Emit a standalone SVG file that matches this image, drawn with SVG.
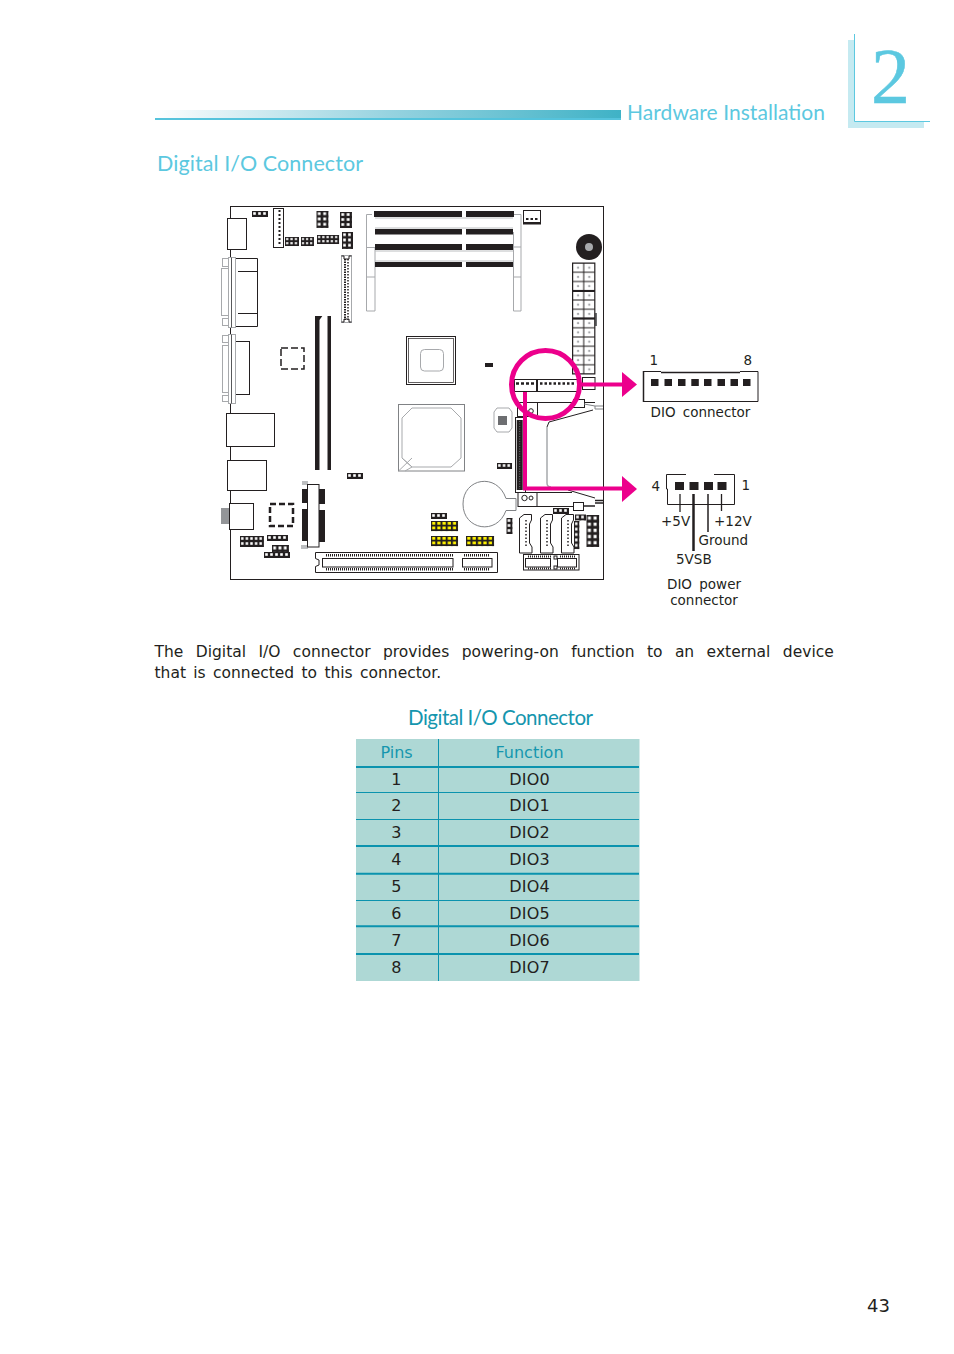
<svg xmlns="http://www.w3.org/2000/svg" width="954" height="1354" viewBox="0 0 954 1354">
<style>
.b{font-family:"DejaVu Sans","Liberation Sans",sans-serif;fill:#231f20}
.h{font-family:"Lato","Open Sans",sans-serif;font-weight:400}
.lbl{font-size:13.5px}
.td{font-size:16px;text-anchor:middle}
.th{font-size:16px;text-anchor:middle;fill:#1596ae}
.k{fill:#fff;stroke:#231f20;stroke-width:1}
.g{fill:#fff;stroke:#a7a9ac;stroke-width:1}
.d{fill:#231f20}
.gf{fill:#a7a9ac}
.tl{stroke:#0b93ae;stroke-width:1;fill:none}
.tt{stroke:#0b93ae;stroke-width:2;fill:none}
.pk{stroke:#ec008c;fill:none}
</style>
<defs>
<linearGradient id="bar" x1="0" x2="1" y1="0" y2="0"><stop offset="0" stop-color="#fff"/><stop offset="0.1" stop-color="#e8f5f8"/><stop offset="0.5" stop-color="#97d3e0"/><stop offset="1" stop-color="#3fb2c6"/></linearGradient>
<pattern id="pins" width="5" height="5" patternUnits="userSpaceOnUse"><rect width="5" height="5" fill="#231f20"/><rect x="1.200" y="1.200" width="2.600" height="2.600" fill="#fff"/></pattern>
<pattern id="ypins" width="5" height="5" patternUnits="userSpaceOnUse"><rect width="5" height="5" fill="#231f20"/><rect x="1.100" y="1" width="3" height="3" fill="#fff200"/></pattern>
<pattern id="tick" width="2" height="4" patternUnits="userSpaceOnUse"><rect width="1" height="4" fill="#231f20"/></pattern>
<pattern id="cell" width="11.200" height="9.250" patternUnits="userSpaceOnUse" x="572.500" y="263"><rect width="11.200" height="9.250" fill="#fff" stroke="#231f20" stroke-width="1"/><circle cx="5.600" cy="4.600" r="1.200" fill="#a7a9ac"/></pattern>
<rect id="p31" width="16" height="6" fill="url(#pins)"/>
<rect id="p41" width="21" height="6" fill="url(#pins)"/>
<rect id="p23" width="11" height="16" fill="url(#pins)"/>
<rect id="p32" width="16" height="11" fill="url(#pins)"/>
<rect id="p52" width="26" height="11" fill="url(#ypins)"/>
</defs>

<g id="page-header">
<rect x="155" y="110" width="466" height="8.500" fill="url(#bar)"/>
<rect x="155" y="118" width="466" height="2" fill="#55c3dc"/>
<rect x="848" y="40" width="76" height="88" fill="#c5eaf1"/>
<rect x="854" y="34" width="76" height="87" fill="#fff"/>
<path d="M854.500 34V121.500H930" fill="none" stroke="#5cc8e0" stroke-width="1"/>
<text x="871" y="102" font-family="Liberation Serif,serif" font-size="78" fill="#5cc8e0" stroke="#5cc8e0" stroke-width="0.500">2</text>
<text x="627" y="120" class="h" font-size="21" fill="#5cc8e0" textLength="198">Hardware Installation</text>
</g>
<text id="section-title" x="157" y="171" class="h" font-size="21.500" fill="#5cc8e0" textLength="206">Digital I/O Connector</text>

<g id="board">
<rect x="230.500" y="206.500" width="373" height="373" fill="#fff" stroke="#231f20"/>
<g id="left-io">
<rect x="227.500" y="218.500" width="19" height="31" class="k"/>
<rect x="221.500" y="268.500" width="7" height="47" class="g"/><rect x="222.500" y="258.500" width="6" height="8" class="g"/><rect x="222.500" y="318.500" width="6" height="7" class="g"/>
<path d="M235 258.500H257.500V326.500H235M238 271.500H258M238 313.500H258" fill="#fff" stroke="#231f20"/>
<rect x="228.500" y="257.500" width="7" height="70" class="g"/><path d="M231.500 257.500V327.500" stroke="#58595b"/>
<rect x="222.500" y="345.500" width="6" height="47" class="g"/><rect x="222.500" y="335.500" width="6" height="7" class="g"/><rect x="222.500" y="395.500" width="6" height="6" class="g"/>
<rect x="235.500" y="341.500" width="14" height="53" class="k"/>
<rect x="228.500" y="334.500" width="7" height="69" class="g"/><path d="M231.500 334.500V403.500" stroke="#58595b"/>
<rect x="226.500" y="413.500" width="48" height="33" class="k"/>
<rect x="227.500" y="460.500" width="39" height="30" class="k"/>
<rect x="221" y="508" width="8" height="16" fill="#939598"/>
<rect x="229.500" y="503.500" width="24" height="26" class="k"/>
</g>
<g id="top-headers">
<use href="#p31" x="252" y="211"/>
<rect x="273.500" y="208.500" width="10" height="39" class="k"/><path d="M279.500 210V246" stroke="#231f20" stroke-width="2" stroke-dasharray="2 2"/>
<use href="#p23" transform="translate(316.500,211) scale(1.090,1.060)"/>
<use href="#p23" transform="translate(340,212) scale(1.090,1)"/>
<use href="#p23" transform="translate(342,232) scale(1,1.060)"/>
<use href="#p32" transform="translate(285,237) scale(0.875,0.820)"/>
<use href="#p32" transform="translate(301,237) scale(0.810,0.820)"/>
<rect width="26" height="11" fill="url(#pins)" transform="translate(317,235) scale(0.850,0.820)"/>
<rect x="341.500" y="255.500" width="10" height="67" class="g"/>
<path d="M341.500 256H344V259H349V256H351.500M341.500 322H344V319H349V322H351.500" fill="none" stroke="#231f20"/>
<path d="M345 259V320" stroke="#231f20" stroke-width="2" stroke-dasharray="1.500 1"/><path d="M348 259V320" stroke="#231f20" stroke-width="1.500" stroke-dasharray="1.500 1.500"/>
</g>
<g id="memory-slots">
<path d="M366.500 214.500H372M366.500 214.500V311H375V277M375 277H366.500M366.500 247.500H375V277" fill="none" stroke="#a7a9ac"/>
<path d="M521 214.500H514M521 214.500V277M513.500 247H521M513.500 277H521V311H513.500V232" fill="none" stroke="#a7a9ac"/>
<path d="M375 218H513M375 228H513M375 251H513M375 261H513" stroke="#bcbec0"/>
<rect x="374" y="211" width="88" height="6" class="d"/><rect x="466" y="211" width="48" height="6" class="d"/>
<rect x="375" y="229" width="87" height="5.500" class="d"/><rect x="466" y="229" width="47" height="5.500" class="d"/>
<rect x="375" y="244" width="87" height="6" class="d"/><rect x="466" y="244" width="47" height="6" class="d"/>
<rect x="375" y="262" width="87" height="5" class="d"/><rect x="466" y="262" width="47" height="5" class="d"/>
</g>
<g id="fan-connector">
<rect x="523.500" y="210.500" width="17" height="13.500" class="k"/><rect x="524" y="222" width="16" height="2" class="d"/>
<path d="M526 219H538" stroke="#231f20" stroke-width="2" stroke-dasharray="2.500 2"/>
</g>
<g id="buzzer"><circle cx="589" cy="247" r="13" class="d"/><circle cx="589" cy="247" r="4" fill="#a7a9ac"/></g>
<g id="pin-block">
<rect x="594" y="313" width="3" height="13" fill="#6d6e71"/>
<rect x="572.500" y="263" width="22.400" height="111" fill="url(#cell)" stroke="#231f20"/>
<path d="M572.500 291H595M572.500 318.500H595" stroke="#231f20" stroke-width="2"/>
</g>
<g id="chips">
<rect x="281" y="348" width="23" height="21" fill="none" stroke="#231f20" stroke-width="1.500" stroke-dasharray="7 3"/>
<rect x="270" y="504" width="23" height="22" fill="none" stroke="#231f20" stroke-width="2.500" stroke-dasharray="6 3"/>
<rect x="406.500" y="336.500" width="49" height="48" class="k"/><rect x="408.500" y="338.500" width="45" height="44" fill="none" stroke="#231f20" stroke-width="0.700"/>
<rect x="420.500" y="349.500" width="23" height="21.500" rx="4" class="g"/>
<rect x="485" y="363" width="8" height="4" class="d"/>
<rect x="398.500" y="404.500" width="66" height="66.500" fill="#fff" stroke="#808285"/>
<path d="M412 408H451L461 418V458L451 467H412L402 458V418Z" fill="none" stroke="#a7a9ac"/>
<path d="M398.500 471L412 458M402 458L412 467L405 471" fill="none" stroke="#a7a9ac"/>
<path d="M497 408H509L512 412V428L509 432H497L494 428V412Z" class="g"/>
<rect x="498" y="416" width="9" height="9" fill="#6d6e71"/>
</g>
<g id="long-slot">
<rect x="315" y="316" width="16" height="154" class="d"/><path d="M319.500 320L323 315H327.500V470H319.500Z" fill="#fff"/>
</g>
<g id="small-headers">
<use href="#p31" x="347" y="473"/>
<use href="#p31" transform="translate(497,463) scale(0.940,1)"/>
<rect width="26" height="11" fill="url(#pins)" transform="translate(240,536) scale(0.920,1)"/>
<use href="#p41" x="267" y="535"/>
<use href="#p31" transform="translate(272,545) scale(1.060,1.170)"/>
<rect width="26" height="6" fill="url(#pins)" transform="translate(264,552)"/>
<use href="#p31" x="431" y="513"/>
<rect width="6" height="16" fill="url(#pins)" transform="translate(506.500,518)"/>
<use href="#p31" x="553" y="508"/>
<rect width="11" height="6" fill="url(#pins)" transform="translate(575,514.500)"/>
<rect width="6" height="26" fill="url(#pins)" transform="translate(574,521) scale(0.900,1.080)"/>
<rect width="11" height="26" fill="url(#pins)" transform="translate(586.500,515) scale(1.150,1.230)"/>
<use href="#p52" transform="translate(431,521) scale(1.040,0.920)"/>
<use href="#p52" transform="translate(431,536) scale(1.040,0.920)"/>
<use href="#p52" transform="translate(466,536) scale(1.080,0.920)"/>
</g>
<g id="riser">
<rect x="302" y="481" width="6" height="4" fill="#bcbec0"/><rect x="301" y="545" width="7" height="4" fill="#bcbec0"/>
<rect x="302" y="489" width="5" height="14" class="d"/><rect x="302" y="509" width="5" height="32" class="d"/>
<rect x="319" y="489" width="6" height="15" class="d"/><rect x="319" y="510" width="6" height="32" class="d"/>
<rect x="307.500" y="484.500" width="11.500" height="62.500" class="k"/>
</g>
<g id="pci-slot">
<path d="M315.500 552.500H497.500V572.500H315.500V566.500L319 565V560L315.500 558.500Z" class="k"/>
<rect x="322.500" y="558.500" width="130.500" height="8.500" class="k"/>
<rect x="462.500" y="558.500" width="29.500" height="8.500" class="k"/>
<rect x="325" y="554" width="128" height="2.500" fill="url(#tick)"/><rect x="325" y="568" width="128" height="2.500" fill="url(#tick)"/>
<rect x="464" y="554" width="26" height="2.500" fill="url(#tick)"/><rect x="464" y="568" width="26" height="2.500" fill="url(#tick)"/>
</g>
<g id="battery">
<path d="M506 498.500C497 472 463 478 463 504C463 530 497 536 506 510.500H516V498.500Z" fill="#fff" stroke="#808285"/>
</g>
<g id="cf-slot">
<path d="M537 402.500H595M593 410L549 422L547 427" fill="none" stroke="#231f20"/>
<path d="M547 427V483Q547 487 551 487" fill="none" stroke="#a7a9ac" stroke-width="1.500"/>
<rect x="515.500" y="417.500" width="10" height="75" class="k"/><rect x="516.700" y="420" width="6" height="70" class="d"/>
<path d="M519.700 421V489" stroke="#6d6e71" stroke-dasharray="1 1.500"/>
<rect x="517.500" y="402.500" width="20" height="14" class="k"/><circle cx="531" cy="411" r="2.300" class="k"/>
<rect x="518" y="492.500" width="19" height="14" class="k"/><circle cx="524.500" cy="498" r="2.700" class="k"/><circle cx="531" cy="498" r="2" class="k"/>
<path d="M537 492.500H572M568 490L595 498M537 506.500H573" fill="none" stroke="#231f20"/>
<rect x="573.500" y="399.500" width="11" height="8" class="k"/><rect x="573.500" y="502.500" width="10" height="8" class="k"/>
<path d="M584 404L595 406V409M595 406H603M595 409H603" fill="none" stroke="#808285"/>
<path d="M584 506L595 506M595 500.500H603M595 503H603" fill="none" stroke="#231f20" stroke-width="1.300"/>
</g>
<g id="sata">
<path d="M519.500 518L524 514.500H531.500V520L529.500 524V543L532 547V553H519.500Z" class="k"/>
<path d="M540.500 518L545 514.500H552.500V520L550.500 524V543L553 547V553H540.500Z" class="k"/>
<path d="M561.500 518L566 514.500H573.500V520L571.500 524V543L574 547V553H561.500Z" class="k"/>
<path d="M526 520V548M547 520V548M568 520V548" stroke="#231f20" stroke-width="1.500" stroke-dasharray="1.500 2"/>
</g>
<g id="mini-pcie">
<rect x="523.500" y="554.500" width="55.500" height="15.500" class="k"/>
<rect x="525.500" y="558.500" width="25" height="8.500" class="k"/><rect x="557.500" y="558.500" width="19" height="8.500" class="k"/>
<rect x="554" y="556" width="3" height="3" class="k"/><rect x="554" y="566" width="3" height="3" class="k"/>
<rect x="527" y="555.500" width="24" height="2" fill="url(#tick)"/><rect x="559" y="555.500" width="17" height="2" fill="url(#tick)"/>
<rect x="527" y="567.500" width="24" height="2" fill="url(#tick)"/><rect x="559" y="567.500" width="17" height="2" fill="url(#tick)"/>
</g>
<g id="dio-on-board">
<rect x="514.500" y="379.500" width="22" height="12" class="k"/><rect x="537.500" y="379.500" width="40" height="12" class="k"/>
<path d="M516 383.500H535" stroke="#231f20" stroke-width="2.500" stroke-dasharray="3 2"/>
<path d="M540 383.500H576" stroke="#231f20" stroke-width="2.500" stroke-dasharray="2.500 2"/>
<rect x="537.500" y="379" width="40" height="1" class="d"/>
<rect x="582.500" y="377.500" width="12.500" height="12" class="k"/>
</g>
</g>

<g id="connectors">
<circle cx="545.500" cy="384.500" r="34" class="pk" stroke-width="5"/>
<path d="M581 384.500H624M525 392V488.500H624" class="pk" stroke-width="4"/>
<path d="M622 372L637 384.500L622 397Z" fill="#ec008c"/>
<path d="M622 476L637 489L622 502Z" fill="#ec008c"/>
</g>

<g id="dio-connector">
<path d="M661 371.500H643.500V401.500H758V371.500H740" fill="#fff" stroke="#231f20"/>
<path d="M643.500 371V402" stroke="#231f20" stroke-width="1.500"/>
<path d="M661 372.500H740" stroke="#231f20" stroke-width="1.500"/>
<g class="d"><rect x="651" y="379" width="7.500" height="7"/><rect x="664.500" y="379" width="7.500" height="7"/><rect x="678" y="379" width="7.500" height="7"/><rect x="691.300" y="379" width="7.500" height="7"/><rect x="704" y="379" width="7.500" height="7"/><rect x="717.500" y="379" width="7.500" height="7"/><rect x="730.500" y="379" width="7.500" height="7"/><rect x="743" y="379" width="7.500" height="7"/></g>
<text x="649.500" y="365" class="b lbl">1</text><text x="743.500" y="365" class="b lbl">8</text>
<text x="650.500" y="417" class="b lbl" word-spacing="3">DIO connector</text>
</g>
<g id="dio-power-connector">
<path d="M686 474.500H666.500V489H667.500V504.500H734.500V474.500H714" fill="#fff" stroke="#231f20"/>
<g class="d"><rect x="675" y="482" width="9" height="8"/><rect x="689.500" y="482" width="9" height="8"/><rect x="704" y="482" width="9" height="8"/><rect x="717.500" y="482" width="9" height="8"/></g>
<path d="M680 494V512" stroke="#231f20" stroke-width="1.300"/>
<path d="M693.500 494V551" stroke="#231f20" stroke-width="2.500"/>
<path d="M708 494V532" stroke="#231f20" stroke-width="1.500"/>
<path d="M721.500 494V511" stroke="#231f20" stroke-width="1.300"/>
<text x="651.500" y="491" class="b lbl">4</text><text x="741.500" y="490" class="b lbl">1</text>
<text x="661" y="526" class="b lbl">+5V</text><text x="714" y="526" class="b lbl">+12V</text>
<text x="698.500" y="545" class="b lbl">Ground</text><text x="676" y="564" class="b lbl">5VSB</text>
<text x="704" y="589" class="b lbl" text-anchor="middle" word-spacing="3">DIO power</text>
<text x="704" y="605" class="b lbl" text-anchor="middle">connector</text>
</g>

<g id="body-text">
<text x="154.500" y="657" class="b" font-size="15.500" word-spacing="7.500">The Digital I/O connector provides powering-on function to an external device</text>
<text x="154.500" y="678" class="b" font-size="15.500" word-spacing="2.400">that is connected to this connector.</text>
</g>

<g id="pin-table">
<text x="408" y="725" class="h" font-size="20.500" fill="#1596ae" textLength="185">Digital I/O Connector</text>
<rect x="356" y="739" width="283.500" height="242" fill="#aed8d5"/>
<path d="M438.500 739V981" class="tl"/>
<path d="M356 767H639M356 846H639M356 873.700H639M356 926.300H639M356 954H639" class="tt"/>
<path d="M356 792.500H639M356 819.500H639M356 900.500H639" class="tl"/>
<text x="396.500" y="758" class="b th">Pins</text><text x="529.500" y="758" class="b th">Function</text>
<g class="b td" letter-spacing="0.200">
<text x="396.500" y="785">1</text><text x="529.500" y="785">DIO0</text>
<text x="396.500" y="811">2</text><text x="529.500" y="811">DIO1</text>
<text x="396.500" y="838">3</text><text x="529.500" y="838">DIO2</text>
<text x="396.500" y="865">4</text><text x="529.500" y="865">DIO3</text>
<text x="396.500" y="892">5</text><text x="529.500" y="892">DIO4</text>
<text x="396.500" y="919">6</text><text x="529.500" y="919">DIO5</text>
<text x="396.500" y="946">7</text><text x="529.500" y="946">DIO6</text>
<text x="396.500" y="973">8</text><text x="529.500" y="973">DIO7</text>
</g>
</g>
<text id="page-number" x="867" y="1312" class="b" font-size="18">43</text>
</svg>
